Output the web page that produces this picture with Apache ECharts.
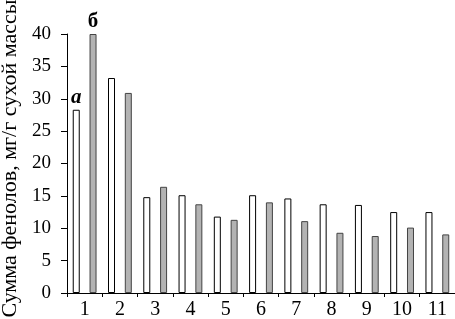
<!DOCTYPE html>
<html><head><meta charset="utf-8">
<script src="https://cdn.jsdelivr.net/npm/echarts@6/dist/echarts.min.js"></script>
<style>html,body{margin:0;padding:0;background:#fff}#c{width:455px;height:319px}</style>
</head><body><div id="c"></div>
<script>
const categories = ['1','2','3','4','5','6','7','8','9','10','11'];
const seriesA = [28.3, 33.2, 14.8, 15.1, 11.8, 15.1, 14.6, 13.7, 13.6, 12.5, 12.5];
const seriesB = [40.0, 30.9, 16.4, 13.7, 11.3, 14.0, 11.1, 9.3, 8.8, 10.1, 9.05];
const yTicks = {min: 0, max: 40, interval: 5};
const yName = 'Сумма фенолов, мг/г сухой массы';
const markA = 'а', markB = 'б';

const font = '"Liberation Serif", "Times New Roman", serif';
const chart = echarts.init(document.getElementById('c'));
function withMark(arr, mark, italic) {
  return arr.map((v, i) => i === 0 ? {
    value: v,
    label: {show: true, position: 'top', formatter: mark, fontFamily: font, fontSize: 21,
      fontWeight: 'bold', fontStyle: italic ? 'italic' : 'normal', color: '#000', distance: 2}
  } : v);
}
chart.setOption({
  animation: false,
  grid: {left: 67, right: 0, top: 34, bottom: 26, containLabel: false, outerBoundsMode: 'none'},
  xAxis: {
    type: 'category', data: categories,
    axisLine: {lineStyle: {color: '#000', width: 1}},
    axisTick: {show: true, length: 4, inside: false, lineStyle: {color: '#000'}},
    axisLabel: {fontFamily: font, fontSize: 20, color: '#000', margin: 7}
  },
  yAxis: {
    type: 'value', min: yTicks.min, max: yTicks.max, interval: yTicks.interval,
    name: yName, nameLocation: 'middle', nameGap: 44, nameRotate: 90,
    nameTextStyle: {fontFamily: font, fontSize: 22, color: '#000', padding: [0, 0, 0, 10]},
    axisLine: {show: true, lineStyle: {color: '#000', width: 1}},
    axisTick: {show: true, length: 6, lineStyle: {color: '#000'}},
    splitLine: {show: false},
    axisLabel: {fontFamily: font, fontSize: 19, color: '#000', margin: 16}
  },
  series: [
    {type: 'bar', data: withMark(seriesA, markA, true), barWidth: 7, barGap: '140%',
      itemStyle: {color: '#fff', borderColor: '#000', borderWidth: 1}},
    {type: 'bar', data: withMark(seriesB, markB, false), barWidth: 7,
      itemStyle: {color: '#b3b3b3', borderColor: '#444', borderWidth: 1}}
  ]
});
</script></body></html>
